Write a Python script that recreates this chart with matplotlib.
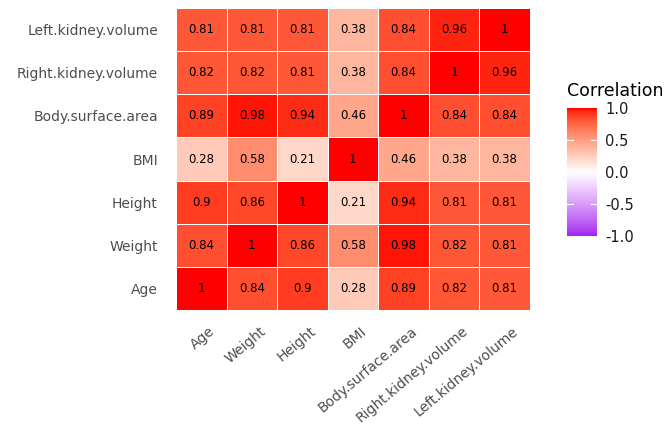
import numpy as np
import matplotlib
matplotlib.use("Agg")
import matplotlib.pyplot as plt
from matplotlib.colors import ListedColormap, to_rgb

plt.rcParams['font.family'] = ['DejaVu Sans']

variables = ["Age", "Weight", "Height", "BMI", "Body.surface.area",
             "Right.kidney.volume", "Left.kidney.volume"]

# correlation matrix, rows/cols in the order of `variables`
corr = np.array([
    [1.00, 0.84, 0.90, 0.28, 0.89, 0.82, 0.81],
    [0.84, 1.00, 0.86, 0.58, 0.98, 0.82, 0.81],
    [0.90, 0.86, 1.00, 0.21, 0.94, 0.81, 0.81],
    [0.28, 0.58, 0.21, 1.00, 0.46, 0.38, 0.38],
    [0.89, 0.98, 0.94, 0.46, 1.00, 0.84, 0.84],
    [0.82, 0.82, 0.81, 0.38, 0.84, 1.00, 0.96],
    [0.81, 0.81, 0.81, 0.38, 0.84, 0.96, 1.00],
])
cell_labels = [
    ["1", "0.84", "0.9", "0.28", "0.89", "0.82", "0.81"],
    ["0.84", "1", "0.86", "0.58", "0.98", "0.82", "0.81"],
    ["0.9", "0.86", "1", "0.21", "0.94", "0.81", "0.81"],
    ["0.28", "0.58", "0.21", "1", "0.46", "0.38", "0.38"],
    ["0.89", "0.98", "0.94", "0.46", "1", "0.84", "0.84"],
    ["0.82", "0.82", "0.81", "0.38", "0.84", "1", "0.96"],
    ["0.81", "0.81", "0.81", "0.38", "0.84", "0.96", "1"],
]


# gradient interpolated in Lab space, like ggplot's scale_fill_gradient2
def _to_lin(c):
    c = np.asarray(c)
    return np.where(c <= 0.04045, c / 12.92, ((c + 0.055) / 1.055) ** 2.4)


def _from_lin(c):
    c = np.clip(c, 0, 1)
    return np.where(c <= 0.0031308, c * 12.92, 1.055 * c ** (1 / 2.4) - 0.055)


M = np.array([[0.4124, 0.3576, 0.1805],
              [0.2126, 0.7152, 0.0722],
              [0.0193, 0.1192, 0.9505]])
WHITE = M @ np.ones(3)


def rgb2lab(rgb):
    xyz = M @ _to_lin(rgb) / WHITE
    f = np.where(xyz > 0.008856, np.cbrt(xyz), 7.787 * xyz + 16 / 116)
    return np.array([116 * f[1] - 16, 500 * (f[0] - f[1]), 200 * (f[1] - f[2])])


def lab2rgb(lab):
    fy = (lab[0] + 16) / 116
    f = np.array([fy + lab[1] / 500, fy, fy - lab[2] / 200])
    xyz = np.where(f ** 3 > 0.008856, f ** 3, (f - 16 / 116) / 7.787) * WHITE
    return np.clip(_from_lin(np.linalg.solve(M, xyz)), 0, 1)


low, mid, high = rgb2lab(to_rgb("#A020F0")), rgb2lab(to_rgb("white")), rgb2lab(to_rgb("red"))
colors = []
for t in np.linspace(-1, 1, 256):
    lab = mid + (low - mid) * (-t) if t < 0 else mid + (high - mid) * t
    colors.append(lab2rgb(lab))
cmap = ListedColormap(colors)

fig = plt.figure(figsize=(6.68, 4.25), dpi=100)
ax = fig.add_axes([0.2635, 0.2706, 0.5295, 0.7104])

n = len(variables)
x = np.arange(n + 1) - 0.5
mesh = ax.pcolormesh(x, x, corr, cmap=cmap, vmin=-1, vmax=1,
                     edgecolor="white", linewidth=0.6)
for i in range(n):
    for j in range(n):
        ax.text(j, i, cell_labels[i][j], ha="center", va="center",
                fontsize=8.5, color="black")

ax.set_xlim(-0.5, n - 0.5)
ax.set_ylim(-0.5, n - 0.5)
ax.set_xticks(np.arange(n) + 0.15)
ax.set_yticks(range(n))
ax.set_xticklabels(variables, rotation=40, ha="right", va="top",
                   rotation_mode="anchor", fontsize=10, color="#4D4D4D")
ax.set_yticklabels(variables, fontsize=10, color="#4D4D4D")
ax.tick_params(axis="y", length=0, pad=13)
ax.tick_params(axis="x", length=0, pad=10)
for s in ax.spines.values():
    s.set_visible(False)

# colour bar legend
cax = fig.add_axes([567 / 668, 1 - 236 / 425, 30 / 668, 128 / 425])
cb = fig.colorbar(mesh, cax=cax, ticks=[-1, -0.5, 0, 0.5, 1])
cb.outline.set_visible(False)
cb.ax.set_yticklabels(["-1.0", "-0.5", "0.0", "0.5", "1.0"])
cb.ax.tick_params(labelsize=10.5, colors="#1A1A1A", length=0, pad=6)
for v in [-0.5, 0.5]:
    cax.plot([0, 0.2], [v, v], color="white", lw=0.8)
    cax.plot([0.8, 1], [v, v], color="white", lw=0.8)
cax.set_title("Correlation", fontsize=12.5, loc="left", pad=9, x=0.0)

fig.savefig("out.png", dpi=100)
